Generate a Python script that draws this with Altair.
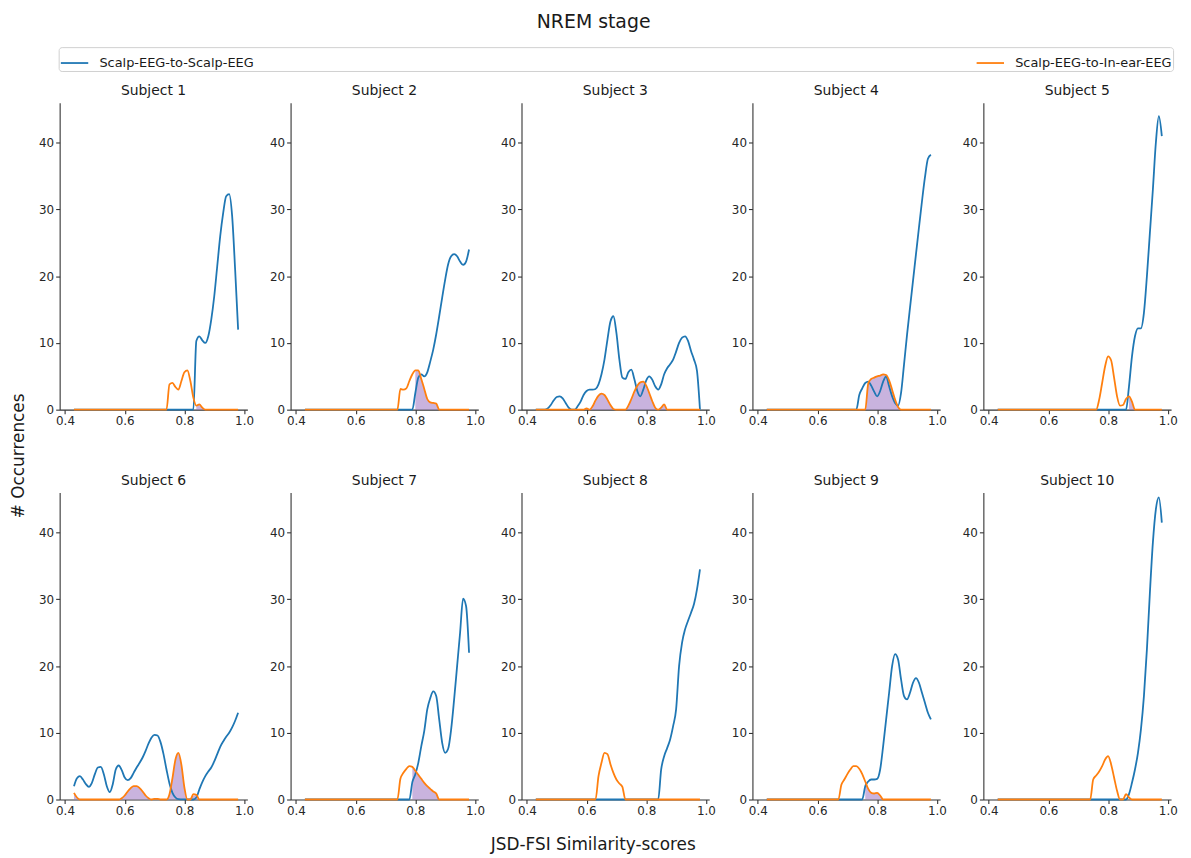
import altair as alt
import pandas as pd

SERIES = ["Scalp-EEG-to-Scalp-EEG", "Scalp-EEG-to-In-ear-EEG"]
COLORS = ["#1f77b4", "#ff7f0e"]
FILL_COLOR = "#9467bd"
SUBJECTS = ["Subject 1", "Subject 2", "Subject 3", "Subject 4", "Subject 5",
            "Subject 6", "Subject 7", "Subject 8", "Subject 9", "Subject 10"]
TITLE = "NREM stage"
X_LABEL = "JSD-FSI Similarity-scores"
Y_LABEL = "# Occurrences"
X_TICKS = [0.4, 0.6, 0.8, 1.0]
Y_TICKS = [0, 10, 20, 30, 40]

X_GRID = [0.43, 0.44, 0.45, 0.46, 0.47, 0.48, 0.49, 0.50, 0.51, 0.52,
          0.53, 0.54, 0.55, 0.56, 0.57, 0.58, 0.59, 0.60, 0.61, 0.62,
          0.63, 0.64, 0.65, 0.66, 0.67, 0.68, 0.69, 0.70, 0.71, 0.72,
          0.73, 0.74, 0.75, 0.76, 0.77, 0.78, 0.79, 0.80, 0.81, 0.82,
          0.83, 0.84, 0.85, 0.86, 0.87, 0.88, 0.89, 0.90, 0.91, 0.92,
          0.93, 0.94, 0.95, 0.96, 0.97, 0.98]

# each curve: (first x on the grid, values at 0.01 steps); 0 elsewhere on the grid
BLUE_1 = (0.83, [0, 10.3, 11, 10.4, 10, 11, 13.5, 17, 21.5, 26, 29.5, 32, 32.3, 29, 21, 12])
ORANGE_1 = (0.74, [0, 3.8, 4, 3.4, 3, 4.3, 5.6, 5.9, 4.3, 1.8, 0.6, 0.8, 0.3, 0])

BLUE_2 = (0.79, [0, 2.5, 4.8, 5.3, 5, 5.6, 7.2, 9, 11.3, 14, 16.8, 19.5, 21.8, 23, 23.3, 23,
                 22.2, 21.7, 22.2, 24])
ORANGE_2 = (0.74, [0, 3.1, 3, 3.2, 4.3, 5.3, 5.9, 5.9, 4.6, 3.1, 1.6, 1.1, 1, 0.9, 0])

BLUE_3 = (0.43, [0, 0, 0, 0, 0.2, 0.7, 1.4, 1.9, 2, 1.7, 1, 0.3, 0, 0, 0.5, 1.2, 2.2, 2.8,
                 3, 3, 3.1, 3.8, 5.3, 7.5, 10.5, 13.2, 14, 11.5, 7.5, 4.8, 4.6, 5.6, 6, 4.6,
                 2.8, 2, 3, 4.4, 5, 4.5, 3.5, 3, 3.8, 5.3, 6.2, 6.8, 7.5, 8.7, 10, 10.8, 11,
                 10.3, 8.8, 7.5, 5.8, 0])
ORANGE_3 = (0.59, [0, 0.2, 0, 0.5, 1.4, 2.1, 2.4, 2.2, 1.5, 0.7, 0.1, 0, 0, 0, 0, 0.6, 1.6,
                   2.7, 3.6, 4.1, 4.2, 3.6, 2.5, 1.3, 0.3, 0, 0.3, 0.8, 0])

BLUE_4 = (0.73, [0, 2.2, 3.2, 4, 4.2, 3.6, 2.7, 2, 2.8, 4.2, 5, 3.5, 2, 1, 0.6, 2.5, 6.8,
                 11.2, 15.3, 19.3, 23.3, 27.3, 31.2, 34.8, 37.6, 38.2])
ORANGE_4 = (0.76, [0, 3.9, 4.6, 4.8, 5, 5.1, 5.3, 5.2, 4.4, 3, 1.5, 0.4, 0])

BLUE_5 = (0.86, [0, 3.5, 8, 11, 12.2, 12.2, 14.5, 20, 26.5, 33, 40, 44, 41])
ORANGE_5 = (0.76, [0, 1.5, 4, 6.5, 8, 7.4, 4.8, 2, 0.6, 0.7, 1.6, 2, 1.2, 0])

BLUE_6 = (0.43, [2, 3.2, 3.5, 3, 2.3, 1.9, 2.5, 3.8, 4.8, 4.9, 3.8, 2.0, 1.1, 2.3, 4.5, 5.1,
                 4.4, 3.3, 2.9, 3.2, 4, 4.8, 5.5, 6.3, 7.3, 8.4, 9.3, 9.7, 9.6, 8.6, 6.8, 4.5,
                 2.4, 1, 0.3, 0.05, 0.03, 0.02, 0.01, 0, 0, 0.3, 1.5, 2.6, 3.5, 4.2, 4.8, 5.7,
                 6.8, 7.9, 8.7, 9.4, 10, 10.8, 11.8, 13])
ORANGE_6 = (0.43, [1, 0.3, 0, 0, 0, 0, 0, 0, 0, 0, 0, 0, 0, 0, 0, 0,
                   0.2, 0.6, 1.2, 1.7, 2, 2, 1.7, 1.2, 0.6, 0.2, 0, 0.1, 0.1, 0, 0, 0,
                   0.8, 3.2, 6, 7, 5.2, 1.8, 0, 0, 0.8, 0.7, 0])

BLUE_7 = (0.78, [0, 2.6, 3.8, 5.5, 8, 10.3, 13.5, 15.2, 16.2, 15.5, 12, 8.5, 7, 7.6, 10.5,
                 15, 20, 25, 30.1, 29, 22])
ORANGE_7 = (0.74, [0, 3.1, 4, 4.6, 5, 4.9, 4.3, 3.7, 3.1, 2.5, 2, 1.6, 1.2, 0.9, 0])

BLUE_8 = (0.84, [0, 4.5, 6.5, 7.7, 9, 11, 13.5, 20, 23.5, 25.5, 26.8, 28, 29.3, 31.5, 34.5])
ORANGE_8 = (0.63, [0, 3.5, 5.5, 7, 6.8, 5.3, 4, 3, 2.4, 1.9, 0])

BLUE_9 = (0.75, [0, 2, 2.7, 3, 3, 3.1, 4.5, 8, 12, 16, 20, 21.8, 21, 18, 15.5, 15, 16, 17.5,
                 18.2, 17.5, 16, 14.5, 13, 12])
ORANGE_9 = (0.67, [0, 2.2, 3, 3.8, 4.5, 5, 5, 4.6, 3.8, 2.7, 1.6, 1, 0.9, 1, 0.6, 0])

BLUE_10 = (0.86, [0, 0.8, 2.5, 4.5, 7, 10.5, 15.5, 22.5, 31, 38.5, 43.5, 45.3, 41.5])
ORANGE_10 = (0.74, [0, 3, 3.6, 4.2, 5, 6, 6.5, 5.3, 3.3, 1.3, 0, 0, 0.8, 0.3, 0])

BLUE = [BLUE_1, BLUE_2, BLUE_3, BLUE_4, BLUE_5, BLUE_6, BLUE_7, BLUE_8, BLUE_9, BLUE_10]
ORANGE = [ORANGE_1, ORANGE_2, ORANGE_3, ORANGE_4, ORANGE_5,
          ORANGE_6, ORANGE_7, ORANGE_8, ORANGE_9, ORANGE_10]

GRID_KEYS = [round(x, 2) for x in X_GRID]


def on_grid(curve):
    start, values = curve
    i0 = GRID_KEYS.index(round(start, 2))
    out = [0.0] * len(X_GRID)
    for j, v in enumerate(values):
        out[i0 + j] = v
    return out


line_rows, fill_rows = [], []
for k, subj in enumerate(SUBJECTS):
    b = on_grid(BLUE[k])
    o = on_grid(ORANGE[k])
    seg, prev = 0, False
    for x, bv, ov in zip(X_GRID, b, o):
        line_rows.append({"subject": subj, "x": x, "value": bv, "series": SERIES[0]})
        line_rows.append({"subject": subj, "x": x, "value": ov, "series": SERIES[1]})
        inside = bv > 0
        if inside and not prev:
            seg += 1
        if inside:
            fill_rows.append({"subject": subj, "x": x, "overlap": ov, "seg": seg})
        prev = inside

lines_df = pd.DataFrame(line_rows)
fill_df = pd.DataFrame(fill_rows)

FONT = "DejaVu Sans"
x_scale = alt.Scale(domain=[0.382, 1.011], nice=False, zero=False)
y_scale = alt.Scale(domain=[0, 46], nice=False)
color_scale = alt.Scale(domain=SERIES, range=COLORS)

legend = alt.Legend(
    title=None, orient="none", legendX=-1, legendY=-56, direction="horizontal",
    symbolType="stroke", symbolSize=760, symbolStrokeWidth=1.8,
    labelFont=FONT, labelFontSize=13, labelColor="#1a1a1a", labelLimit=400,
    labelOffset=10, columnPadding=723, padding=1,
    strokeColor="#d0d0d0", fillColor="white", cornerRadius=3,
)


def panel(k):
    subj = SUBJECTS[k]
    ldf = lines_df[lines_df.subject == subj]
    fdf = fill_df[fill_df.subject == subj]

    if k == 7:
        x_axis = alt.Axis(values=X_TICKS, format=".1f", title=X_LABEL,
                          titleX=71.7, titleY=45, titleAlign="center",
                          titleBaseline="middle", titleFontSize=17)
    else:
        x_axis = alt.Axis(values=X_TICKS, format=".1f", title=None)
    if k == 0:
        y_axis = alt.Axis(values=Y_TICKS, title=Y_LABEL, titleX=-41, titleY=355,
                          titleAlign="center", titleBaseline="middle",
                          titleAngle=270, titleFontSize=17)
    else:
        y_axis = alt.Axis(values=Y_TICKS, title=None)

    x_enc = alt.X("x:Q", scale=x_scale, axis=x_axis)

    area = alt.Chart(fdf).mark_area(
        color=FILL_COLOR, opacity=0.5, interpolate="monotone"
    ).encode(
        x=x_enc,
        y=alt.Y("overlap:Q", scale=y_scale, axis=y_axis),
        detail="seg:N",
    )
    layers = [area]
    for s in SERIES:
        layers.append(
            alt.Chart(ldf[ldf.series == s]).mark_line(
                strokeWidth=1.8, interpolate="monotone"
            ).encode(
                x=x_enc,
                y=alt.Y("value:Q", scale=y_scale, axis=y_axis),
                color=alt.Color("series:N", scale=color_scale, legend=legend),
            )
        )
    return alt.layer(*layers).properties(
        width=189, height=309,
        title=alt.TitleParams(subj, font=FONT, fontSize=14, fontWeight="normal",
                              color="#1a1a1a", offset=5, anchor="middle"),
    )


chart = alt.concat(
    *[panel(k) for k in range(10)], columns=5,
    spacing={"row": 83.5, "column": 43.5}, bounds="flush",
).properties(
    title=alt.TitleParams(TITLE, font=FONT, fontSize=19, fontWeight="normal",
                          color="#1a1a1a", anchor="middle", offset=15),
    padding={"left": 2, "top": 1.5, "right": 5, "bottom": 5},
).resolve_scale(color="shared").configure_view(stroke=None).configure_axis(
    grid=False, domainColor="#333333", tickColor="#333333", domainWidth=1.1,
    tickWidth=1.1, tickSize=4, labelFont=FONT, labelFontSize=12,
    labelColor="#262626", labelPadding=2, titleFont=FONT, titleFontWeight="normal",
    titleColor="#1a1a1a",
)

chart.save("out.html", embed_options={"renderer": "svg", "actions": False})
